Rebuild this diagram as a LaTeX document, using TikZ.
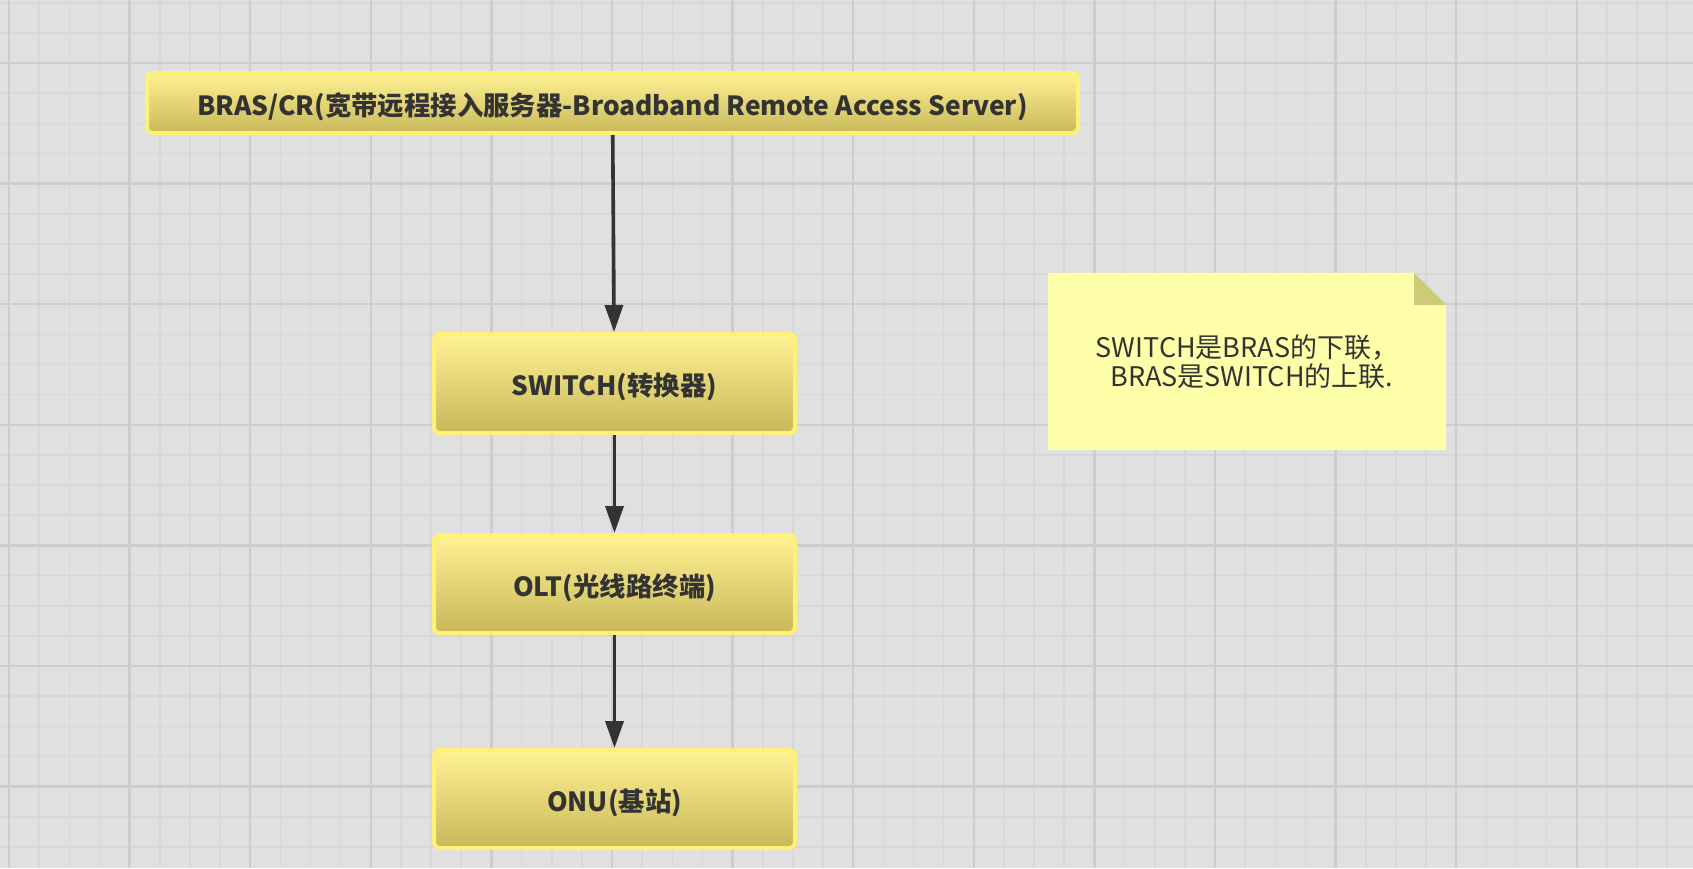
\documentclass[tikz,border=0pt]{standalone}
\usepackage{fontspec}
\setmainfont{Noto Sans CJK SC}
\usetikzlibrary{arrows.meta,calc,backgrounds}
\definecolor{bg}{HTML}{E0E0E0}
\definecolor{gridfine}{HTML}{D7D7D7}
\definecolor{gridthick}{HTML}{CDCDCD}
\definecolor{boxborder}{HTML}{FFF176}
\definecolor{boxtop}{HTML}{FFF293}
\definecolor{boxbot}{HTML}{C8B85A}
\definecolor{txt}{HTML}{333333}
\definecolor{notefill}{HTML}{FFFFAA}
\definecolor{notefold}{HTML}{CCCC77}
\tikzset{
  gfine/.style={draw=gridfine, line width=1.6pt},
  gthick/.style={draw=gridthick, line width=2.4pt},
  boxnode/.style={rectangle, rounded corners=6pt, draw=boxborder, line width=4pt,
    top color=boxtop, bottom color=boxbot, text=txt,
    font=\fontsize{26.4}{30}\selectfont\bfseries, inner sep=0pt,
    text height=28pt, text depth=4pt},
  conn/.style={draw=txt, line width=3.6pt, -{Triangle[width=18pt,length=27pt]}},
  notetext/.style={text=txt, font=\fontsize{27}{29}\selectfont, align=center,
    minimum width=398pt, minimum height=177pt, inner sep=0pt}
}
\begin{document}
\begin{tikzpicture}[x=1pt,y=-1pt]
\useasboundingbox (0,0) rectangle (1693,868);

\node[boxnode, minimum width=931pt, minimum height=60pt] (bras) at (612.5,103)
  {BRAS/CR(宽带远程接入服务器-Broadband Remote Access Server)};
\node[boxnode, minimum width=361pt, minimum height=99pt] (switch) at (614.5,383.5)
  {SWITCH(转换器)};
\node[boxnode, minimum width=361pt, minimum height=98pt] (olt) at (614.5,584)
  {OLT(光线路终端)};
\node[boxnode, minimum width=361pt, minimum height=98pt] (onu) at (614.5,799)
  {ONU(基站)};

\draw[conn] (bras) -- (switch);
\draw[conn] (switch) -- (olt);
\draw[conn] (olt) -- (onu);

\node[notetext] (note) at (1247,361.5) {SWITCH是BRAS的下联，\\\hspace*{0.35em}BRAS是SWITCH的上联.};
\begin{pgfonlayer}{background}
\fill[bg] (0,0) rectangle (1693,868);
\foreach \k in {0,...,56} { \draw[gfine] ({9+30.15*\k},0) -- ({9+30.15*\k},868); }
\foreach \k in {-2,...,27} { \draw[gfine] (0,{63+30.15*\k}) -- (1693,{63+30.15*\k}); }
\foreach \k in {0,...,14} { \draw[gthick] ({9+120.6*\k},0) -- ({9+120.6*\k},868); }
\foreach \k in {-1,...,6} { \draw[gthick] (0,{63+120.6*\k}) -- (1693,{63+120.6*\k}); }
\fill[notefill] (note.north west) -- ($(note.north east)+(-32,0)$) -- ($(note.north east)+(0,32)$)
  -- (note.south east) -- (note.south west) -- cycle;
\fill[notefold] ($(note.north east)+(-32,0)$) -- ($(note.north east)+(0,32)$) -- ($(note.north east)+(-32,32)$) -- cycle;
\end{pgfonlayer}
\end{tikzpicture}
\end{document}
